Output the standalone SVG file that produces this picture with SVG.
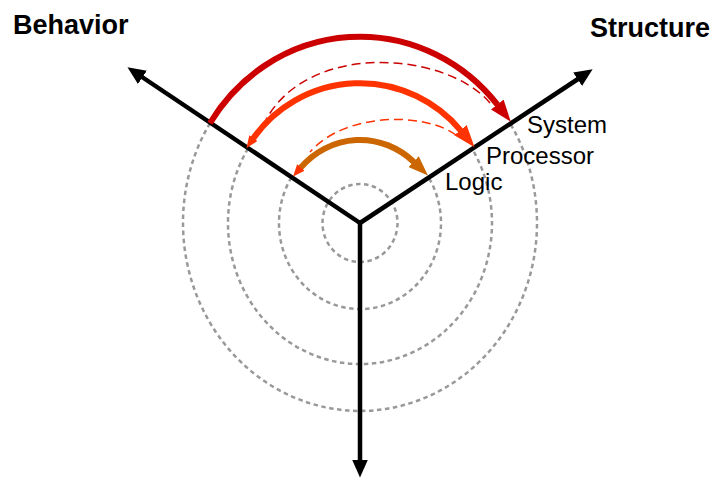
<svg xmlns="http://www.w3.org/2000/svg" width="717" height="478" viewBox="0 0 717 478">
  <style>
    .dot { fill: none; stroke: #999999; stroke-width: 2.5; stroke-dasharray: 4.5 3.5; }
    .axis { fill: none; stroke: #000000; stroke-width: 4.5; marker-end: url(#ahBlack); }
    .arc { fill: none; stroke-width: 6; }
    .dash { fill: none; stroke-width: 1.5; stroke-dasharray: 9 5; }
    .bold { font-family: "Liberation Sans", Arial, sans-serif; font-weight: bold; font-size: 27px; fill: #000; }
    .lbl { font-family: "Liberation Sans", Arial, sans-serif; font-size: 24px; fill: #000; }
  </style>
  <defs>
    <marker id="ahBlack" viewBox="0 0 18 16" markerWidth="18" markerHeight="16" refX="0.5" refY="8" orient="auto" markerUnits="userSpaceOnUse">
      <path d="M0,0 L18,8 L0,16 z" fill="#000000"/>
    </marker>
    <marker id="ahRed" viewBox="0 0 22 16" markerWidth="22" markerHeight="16" refX="0.5" refY="8" orient="auto" markerUnits="userSpaceOnUse">
      <path d="M0,0 L22,8 L0,16 z" fill="#CC0000"/>
    </marker>
    <marker id="ahProc" viewBox="0 0 22 16" markerWidth="22" markerHeight="16" refX="0.5" refY="8" orient="auto" markerUnits="userSpaceOnUse">
      <path d="M0,0 L22,8 L0,16 z" fill="#FF3300"/>
    </marker>
    <marker id="ahLogic" viewBox="0 0 20 15" markerWidth="20" markerHeight="15" refX="0.5" refY="7.5" orient="auto" markerUnits="userSpaceOnUse">
      <path d="M0,0 L20,7.5 L0,15 z" fill="#CC6600"/>
    </marker>
    <marker id="ahSmall" viewBox="0 0 12 10" markerWidth="12" markerHeight="10" refX="0.5" refY="5" orient="auto-start-reverse" markerUnits="userSpaceOnUse">
      <path d="M0,0 L12,5 L0,10 z" fill="#FF3300"/>
    </marker>
  </defs>

  <g id="rings">
    <ellipse class="dot" cx="360" cy="223" rx="37.5" ry="39"/>
    <path class="dot" d="M291.4,177.4 A81,86 0 1,0 428.6,177.4"/>
    <path class="dot" d="M247.9,148.6 A132,141 0 1,0 472.1,148.6"/>
    <path class="dot" d="M209.9,123.3 A177,188 0 1,0 510.1,123.3"/>
  </g>

  <g id="axes">
    <line class="axis" x1="360" y1="223" x2="142" y2="77"/>
    <line class="axis" x1="360" y1="223" x2="578" y2="79"/>
    <line class="axis" x1="360" y1="223" x2="360" y2="460"/>
  </g>

  <g id="connectors">
    <path class="dash" stroke="#CC0000" d="M490,103 C445,50 300,40 262,128"/>
    <path class="dash" stroke="#FF3300" d="M456,135 C425,112 345,112 310,152"/>
    <path class="arc" stroke="#CC0000" marker-end="url(#ahRed)" d="M209.9,123.3 A177,184 0 0,1 497.6,104.9"/>
    <path class="arc" stroke="#FF3300" marker-start="url(#ahSmall)" marker-end="url(#ahProc)" d="M253.1,138.5 A131,131 0 0,1 460.8,130.6"/>
    <path class="arc" stroke="#CC6600" marker-start="url(#ahSmall)" marker-end="url(#ahLogic)" d="M300.6,167.8 A81,87 0 0,1 413.9,162"/>
  </g>

  <g id="behavior"><text class="bold" x="13" y="34">Behavior</text></g>
  <g id="structure"><text class="bold" x="590" y="37">Structure</text></g>
  <g id="system"><text class="lbl" x="527" y="133">System</text></g>
  <g id="processor"><text class="lbl" x="486" y="164">Processor</text></g>
  <g id="logic"><text class="lbl" x="445" y="190">Logic</text></g>
</svg>
